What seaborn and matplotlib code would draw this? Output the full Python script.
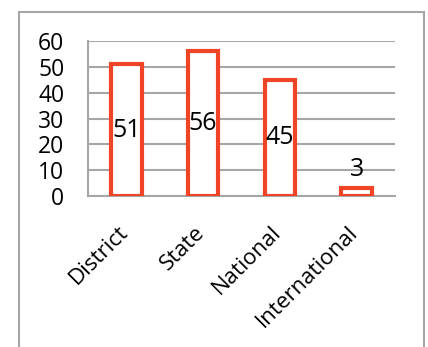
#!/usr/bin/env python3
import matplotlib as mpl
import matplotlib.pyplot as plt
import matplotlib.transforms as mtransforms
import seaborn as sns
import pandas as pd
import numpy as np

mpl.use("Agg")

sns.set_style("white", {"text.color": "black", "xtick.color": "black",
                        "ytick.color": "black"})
plt.rcParams["font.family"] = ["Open Sans", "DejaVu Sans"]

categories = ["District", "State", "National", "International"]
counts = [51, 56, 45, 3]

df = pd.DataFrame({"level": categories, "count": counts})

EDGE = "#ef4526"
GRID = "#a6a6a6"
TICKSIZE = 16.5
XSIZE = 16
LABELSIZE = 18

fig = plt.figure(figsize=(4.28, 3.47), dpi=100)
# outer chart border
fig.patches.append(
    mpl.patches.Rectangle((19 / 428, -0.05), 405 / 428, 1 - 12 / 347 + 0.05,
                          transform=fig.transFigure, fill=False,
                          edgecolor=GRID, linewidth=1.5)
)
ax = fig.add_axes([88 / 428, (347 - 196) / 347, 307 / 428, 155 / 347])

sns.barplot(data=df, x="level", y="count", ax=ax, color="white",
            edgecolor=EDGE, linewidth=3, width=0.4, zorder=3)

ax.set_ylim(0, 60)
ax.set_xlim(-0.5, 3.5)
ax.set_yticks(range(0, 61, 10))
ax.yaxis.grid(True, color=GRID, linewidth=1.5)
ax.set_axisbelow(True)
for s in ["top", "right"]:
    ax.spines[s].set_visible(False)
ax.spines["left"].set_color(GRID)
ax.spines["left"].set_linewidth(1.5)
ax.spines["bottom"].set_color(GRID)
ax.spines["bottom"].set_linewidth(1.5)

ax.tick_params(axis="y", length=6, width=1.5, color=GRID, labelsize=TICKSIZE,
               pad=11, labelcolor="black")
ax.tick_params(axis="x", which="major", length=0, labelsize=XSIZE, pad=12,
               labelcolor="black")
ax.set_xticks(np.arange(-0.5, 4, 1), minor=True)
ax.tick_params(axis="x", which="minor", length=7, width=1.5, color=GRID)
# shift the rotated labels a bit down-left, like the original
shift = mtransforms.ScaledTranslation(-9 / 100, -9 / 100, fig.dpi_scale_trans)
for lbl in ax.get_xticklabels():
    lbl.set_rotation(45)
    lbl.set_ha("right")
    lbl.set_rotation_mode("anchor")
    lbl.set_transform(lbl.get_transform() + shift)

ax.set_xlabel("")
ax.set_ylabel("")

# value labels: centred inside tall bars, above the short one
for bar, v in zip(ax.patches, counts):
    x = bar.get_x() + bar.get_width() / 2
    if v > 10:
        ax.text(x, v / 2, str(v), ha="center", va="center",
                fontsize=LABELSIZE, color="black", zorder=4)
    else:
        ax.text(x, v + 2.5, str(v), ha="center", va="bottom",
                fontsize=LABELSIZE, color="black", zorder=4)

fig.savefig("out.png", dpi=100)
